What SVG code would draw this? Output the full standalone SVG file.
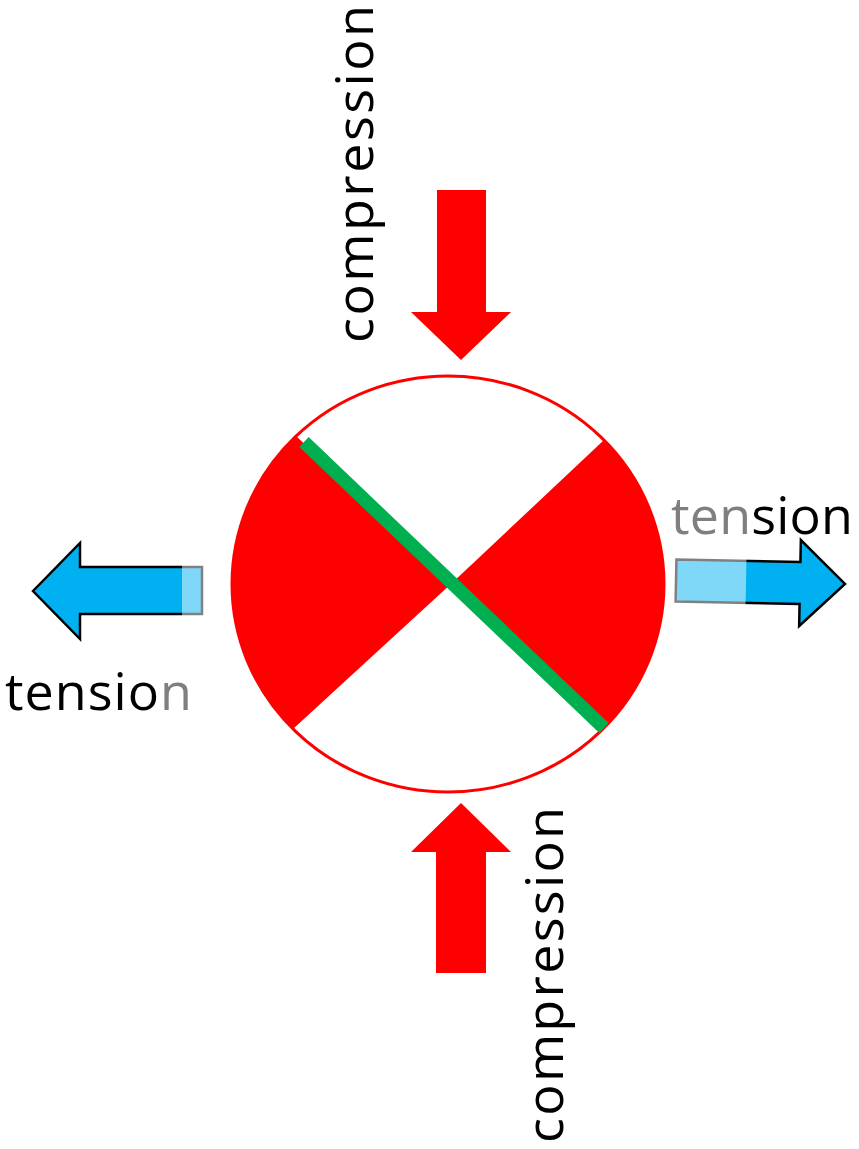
<svg xmlns="http://www.w3.org/2000/svg" width="859" height="1149" viewBox="0 0 859 1149">
  <style>
    .lbl { font-family: "Open Sans", "Liberation Sans", sans-serif; font-size: 52px; fill: #000000; }
    .dim { fill: #7f7f7f; }
    .comp { fill: #FF0000; stroke: none; }
    .tens { fill: #00B0F0; stroke: #000000; stroke-width: 2.5; stroke-linejoin: miter; }
    .veil { fill: #ffffff; fill-opacity: 0.5; stroke: none; }
  </style>
  <rect width="859" height="1149" fill="#ffffff"/>

  <g id="specimen">
    <ellipse cx="448" cy="584" rx="216" ry="208" fill="#ffffff" stroke="#FF0000" stroke-width="3"/>
    <path d="M296,436 L452,583 L293,729 A216 208 0 0 1 296,436 Z" fill="#FF0000"/>
    <path d="M452,583 L604,440 A216 208 0 0 1 606,726 Z" fill="#FF0000"/>
    <line x1="304" y1="442" x2="604" y2="728" stroke="#00B050" stroke-width="13.5"/>
  </g>

  <g id="connectors">
    <g id="arrow-top">
      <polygon class="comp" points="437,190 486,190 486,312 511,312 461,360 411,312 437,312"/>
    </g>
    <g id="arrow-bottom">
      <polygon class="comp" points="461,803 511,852 486,852 486,973 436,973 436,852 411,852"/>
    </g>
    <g id="arrow-left">
      <polygon class="tens" points="33,591 80,543 80,567 202,567 202,614 80,614 80,639"/>
      <rect class="veil" x="182" y="564" width="22" height="53"/>
    </g>
    <g id="arrow-right" transform="rotate(1.15 800 583)">
      <polygon class="tens" points="676,562 800,562 800,540 845,583 800,626 800,604 676,604"/>
      <rect class="veil" x="674" y="559" width="72" height="48"/>
    </g>
  </g>

  <g id="label-top">
    <text class="lbl" transform="translate(373,343) rotate(-90)" x="0" y="0" textLength="338" lengthAdjust="spacing">compression</text>
  </g>
  <g id="label-bottom">
    <text class="lbl" transform="translate(563,1143) rotate(-90)" x="0" y="0" textLength="336" lengthAdjust="spacing">compression</text>
  </g>
  <g id="label-left">
    <text class="lbl" x="5" y="710" textLength="187" lengthAdjust="spacing">tensio<tspan class="dim">n</tspan></text>
  </g>
  <g id="label-right">
    <text class="lbl" x="671" y="534" textLength="182" lengthAdjust="spacing"><tspan class="dim">ten</tspan>sion</text>
  </g>
</svg>
